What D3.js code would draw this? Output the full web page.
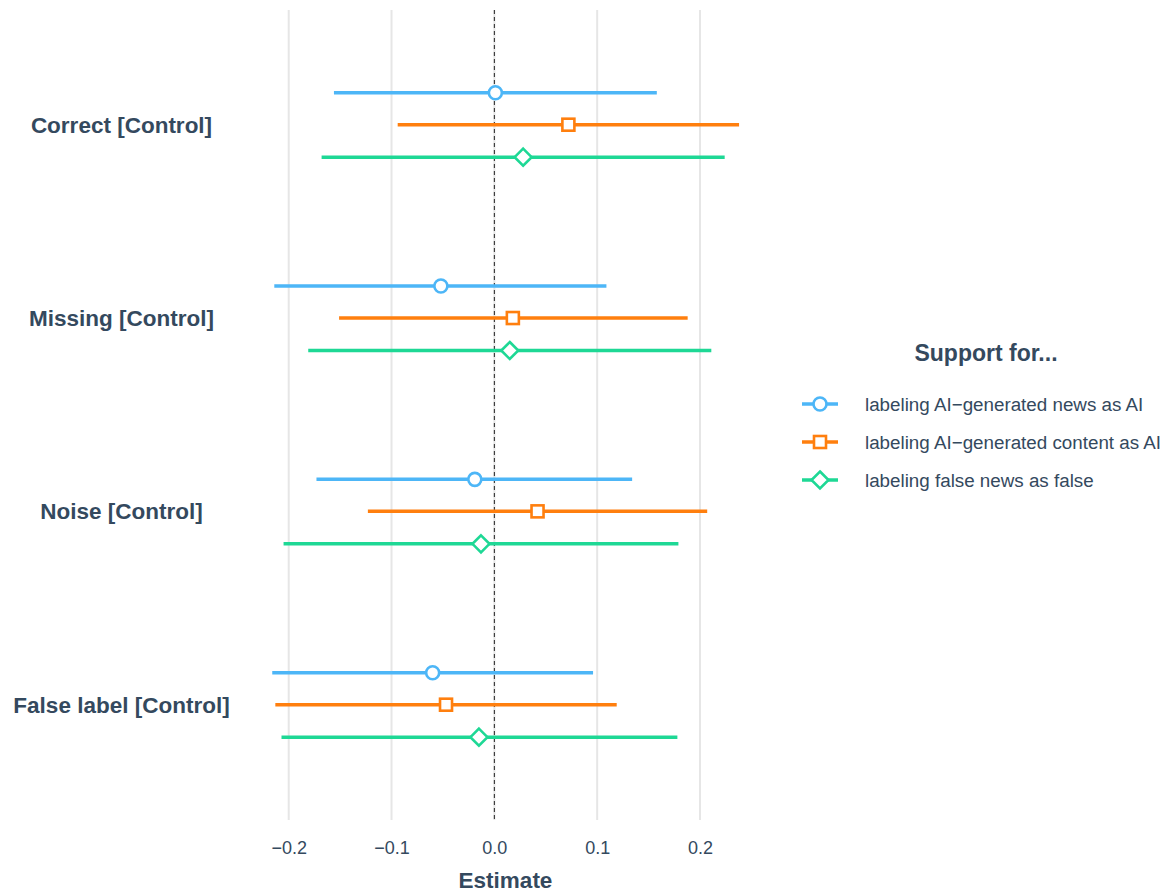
<!DOCTYPE html>
<html><head><meta charset="utf-8">
<script src="https://cdn.jsdelivr.net/npm/d3@7"></script>
<style>body{margin:0;background:#fff;font-family:"Liberation Sans",Arial,sans-serif;}</style>
</head><body><svg id="c" width="1173" height="895"></svg>
<script>
const categories = ["Correct [Control]", "Missing [Control]", "Noise [Control]", "False label [Control]"];
const seriesNames = ["labeling AI\u2212generated news as AI", "labeling AI\u2212generated content as AI", "labeling false news as false"];
const estNews    = [0.001, -0.052, -0.019, -0.060];
const lowNews    = [-0.156, -0.214, -0.173, -0.216];
const highNews   = [0.158, 0.109, 0.134, 0.096];
const estContent = [0.072, 0.018, 0.042, -0.047];
const lowContent = [-0.094, -0.151, -0.123, -0.213];
const highContent= [0.238, 0.188, 0.207, 0.119];
const estFalse   = [0.028, 0.015, -0.013, -0.015];
const lowFalse   = [-0.168, -0.181, -0.205, -0.207];
const highFalse  = [0.224, 0.211, 0.179, 0.178];
const xTicks = [-0.2, -0.1, 0.0, 0.1, 0.2];
const xTickLabels = ["\u22120.2", "\u22120.1", "0.0", "0.1", "0.2"];

const colors = ["#4DB6F7", "#FF7F0E", "#1ED895"];
const shapes = ["circle", "square", "diamond"];
const series = [
  {name: seriesNames[0], est: estNews, low: lowNews, high: highNews},
  {name: seriesNames[1], est: estContent, low: lowContent, high: highContent},
  {name: seriesNames[2], est: estFalse, low: lowFalse, high: highFalse}
];
const offsets = [-32, 0, 32.5];

const svg = d3.select("#c");
const x = d3.scaleLinear().domain([-0.2, 0.2]).range([288.7, 700]);
const y = d3.scalePoint().domain(categories).range([124.7, 704.7]);
const panelTop = 10, panelBottom = 820;
const textCol = "#34495E";

// gridlines
svg.append("g").selectAll("line").data(xTicks).join("line")
  .attr("x1", d => x(d)).attr("x2", d => x(d)).attr("y1", panelTop).attr("y2", panelBottom)
  .attr("stroke", "#e6e6e6").attr("stroke-width", 2);

// zero dashed line
svg.append("line").attr("x1", x(0)).attr("x2", x(0)).attr("y1", panelTop).attr("y2", panelBottom)
  .attr("stroke", "#222").attr("stroke-width", 1).attr("stroke-dasharray", "4,3");

// x axis labels
const ax = svg.append("g").attr("transform", `translate(0,${panelBottom})`)
  .call(d3.axisBottom(x).tickValues(xTicks).tickFormat((d,i) => xTickLabels[i]).tickSize(0).tickPadding(21));
ax.select(".domain").remove();
ax.selectAll("text").attr("font-size", 18).attr("fill", textCol).attr("font-family", "Liberation Sans, Arial, sans-serif");

svg.append("text").attr("x", 505.5).attr("y", 888).attr("text-anchor", "middle")
  .attr("font-size", 22.5).attr("font-weight", "bold").attr("fill", textCol).text("Estimate");

// category labels
svg.append("g").selectAll("text").data(categories).join("text")
  .attr("x", 121.5).attr("y", d => y(d)).attr("dy", "0.35em").attr("text-anchor", "middle")
  .attr("font-size", 22.5).attr("font-weight", "bold").attr("fill", textCol).text(d => d);

function marker(g, shape, color) {
  if (shape === "circle") {
    g.append("circle").attr("r", 6.5).attr("fill", "#fff").attr("stroke", color).attr("stroke-width", 2.6);
  } else if (shape === "square") {
    g.append("rect").attr("x", -6).attr("y", -6).attr("width", 12).attr("height", 12)
      .attr("fill", "#fff").attr("stroke", color).attr("stroke-width", 2.6);
  } else {
    g.append("path").attr("d", "M0,-8.5L8.5,0L0,8.5L-8.5,0Z")
      .attr("fill", "#fff").attr("stroke", color).attr("stroke-width", 2.6);
  }
}

series.forEach((s, si) => {
  const g = svg.append("g");
  categories.forEach((c, ci) => {
    const yy = y(c) + offsets[si];
    g.append("line").attr("x1", x(s.low[ci])).attr("x2", x(s.high[ci]))
      .attr("y1", yy).attr("y2", yy).attr("stroke", colors[si]).attr("stroke-width", 3.5);
    const m = g.append("g").attr("transform", `translate(${x(s.est[ci])},${yy})`);
    marker(m, shapes[si], colors[si]);
  });
});

// legend
svg.append("text").attr("x", 986).attr("y", 361).attr("text-anchor", "middle")
  .attr("font-size", 23).attr("font-weight", "bold").attr("fill", textCol).text("Support for...");
series.forEach((s, si) => {
  const ly = 404 + si * 38;
  const g = svg.append("g");
  g.append("line").attr("x1", 802).attr("x2", 838).attr("y1", ly).attr("y2", ly)
    .attr("stroke", colors[si]).attr("stroke-width", 3.5);
  const m = g.append("g").attr("transform", `translate(820,${ly})`);
  marker(m, shapes[si], colors[si]);
  g.append("text").attr("x", 865).attr("y", ly).attr("dy", "0.35em").attr("font-size", 18.8)
    .attr("fill", textCol).text(s.name);
});
</script></body></html>
